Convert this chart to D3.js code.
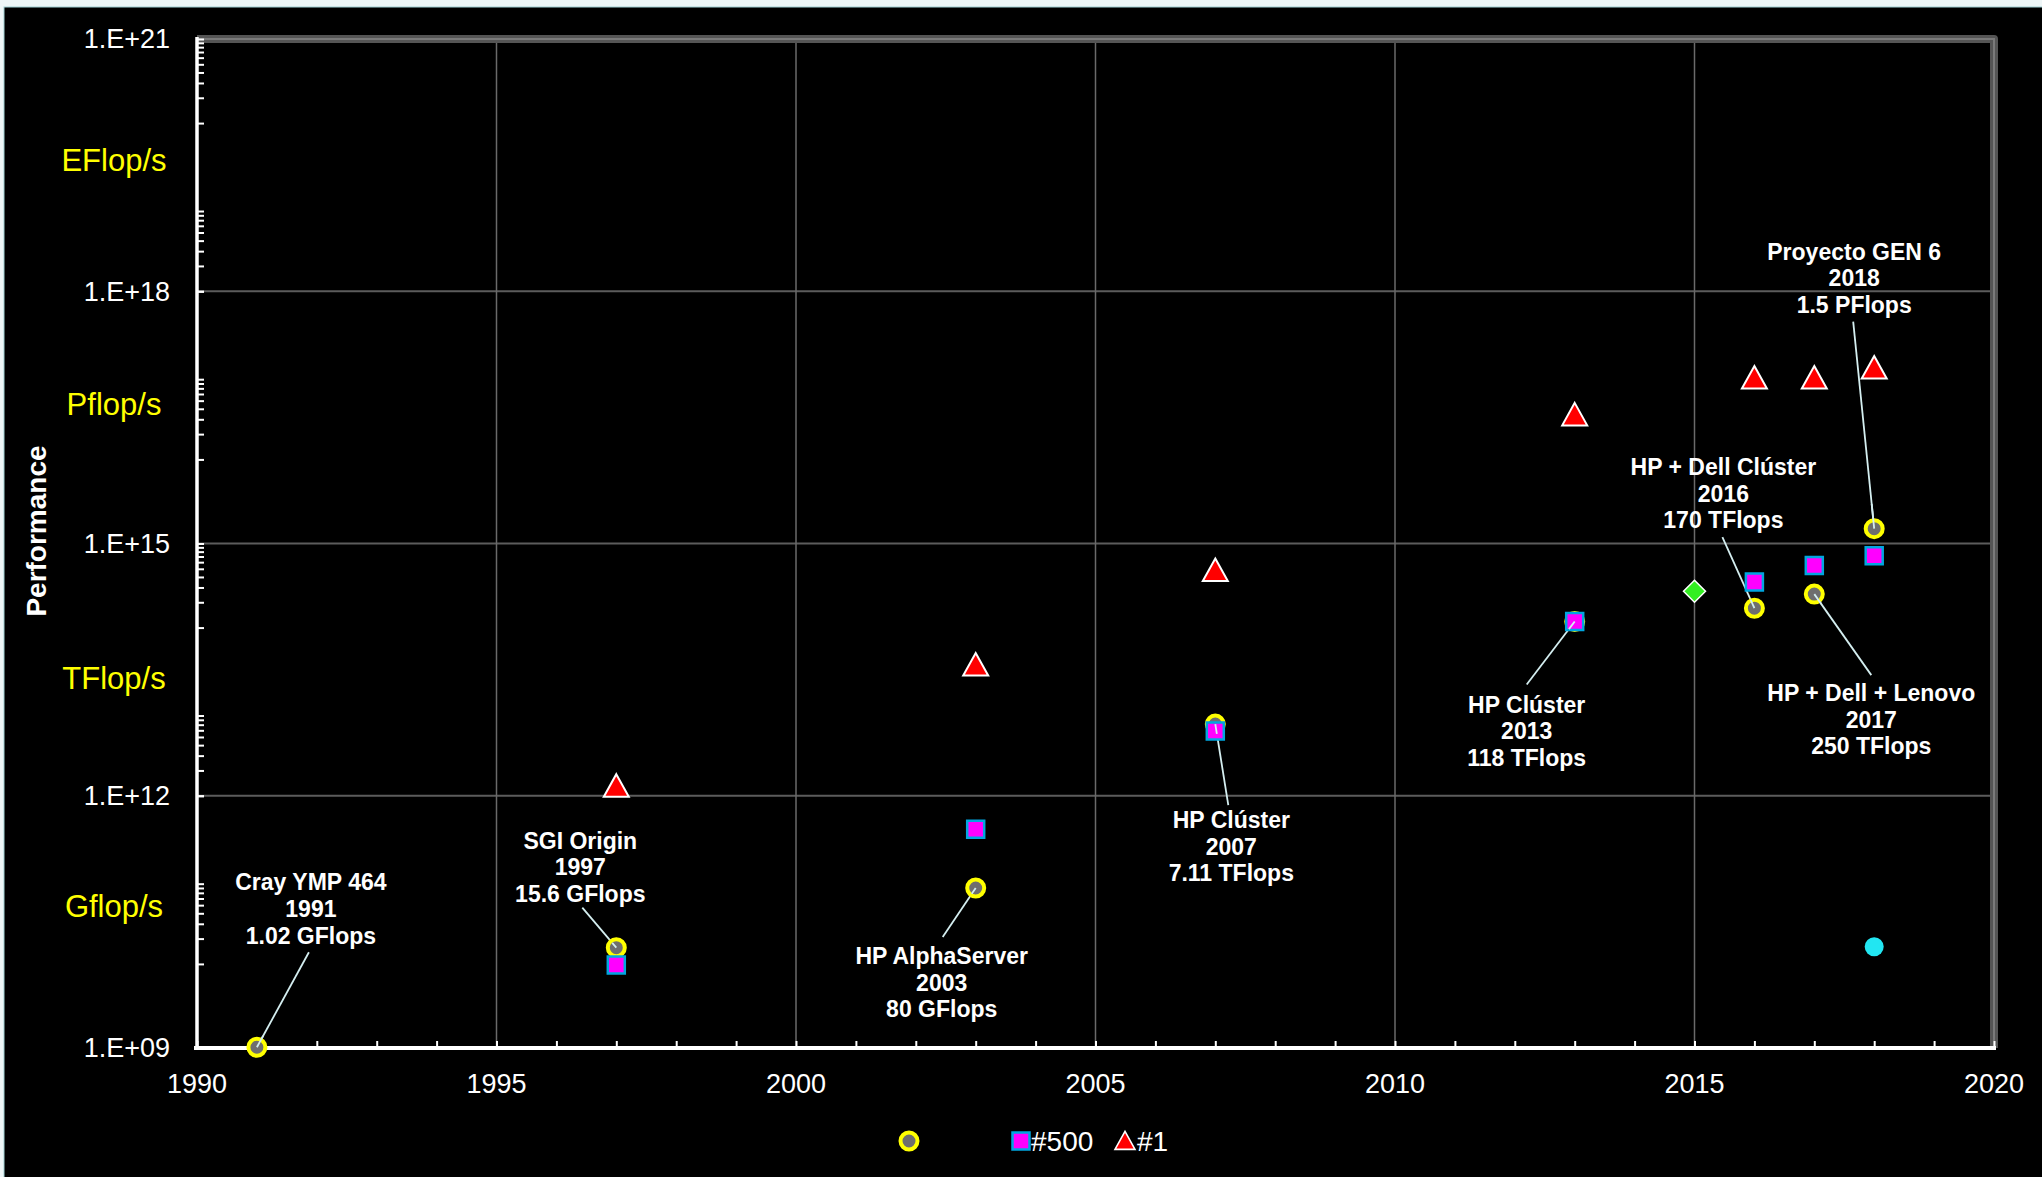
<!DOCTYPE html>
<html>
<head>
<meta charset="utf-8">
<script src="https://cdn.jsdelivr.net/npm/d3@7"></script>
<style>
  html, body { margin: 0; padding: 0; background: #eef6f7; overflow: hidden; }
  svg { display: block; }
  text { font-family: "Liberation Sans", Arial, sans-serif; }
</style>
</head>
<body>
<svg id="chart" width="2042" height="1177"></svg>
<script>
// ---- Data ----
const peruYears = [1991, 1997, 2003, 2007, 2013, 2016, 2017, 2018];
const peruPerf = [1.02e9, 15.6e9, 80e9, 7.11e12, 118e12, 170e12, 250e12, 1.5e15];
const peruNames = ["Cray YMP 464", "SGI Origin", "HP AlphaServer", "HP Clúster", "HP Clúster",
                   "HP + Dell Clúster", "HP + Dell + Lenovo", "Proyecto GEN 6"];
const peruPerfText = ["1.02 GFlops", "15.6 GFlops", "80 GFlops", "7.11 TFlops", "118 TFlops",
                      "170 TFlops", "250 TFlops", "1.5 PFlops"];

const topYears = [1997, 2003, 2007, 2013, 2016, 2017, 2018];
const rank500Perf = [9.7e9, 4.0e11, 5.9e12, 1.18e14, 3.49e14, 5.48e14, 7.16e14];
const rank1Perf = [1.3e12, 3.586e13, 4.78e14, 3.386e16, 9.3e16, 9.3e16, 1.223e17];

const diamondYears = [2015];
const diamondPerf = [2.7e14];
const dotYears = [2018];
const dotPerf = [1.6e10];

const xTickYears = [1990, 1995, 2000, 2005, 2010, 2015, 2020];
const yMajorTicks = [1e9, 1e12, 1e15, 1e18, 1e21];
const yTickLabels = ["1.E+09", "1.E+12", "1.E+15", "1.E+18", "1.E+21"];
const unitNames = ["Gflop/s", "TFlop/s", "Pflop/s", "EFlop/s"];
const unitLevels = [4.9e10, 2.5e13, 4.5e16, 3.6e19];
const legendLabels = ["", "#500", "#1"];

// ---- Layout ----
const W = 2042, H = 1177;
const plot = { left: 197, right: 1994, top: 39, bottom: 1048 };
// label placement relative to each labelled point: text centre (dx, dy) and leader start (lx, ly)
const labelOffsets = [
  { dx: 54, dy: -165, lx: 52, ly: -95 },
  { dx: -36, dy: -107, lx: -34, ly: -40 },
  { dx: -34, dy: 68, lx: -33, ly: 49 },
  { dx: 16, dy: 96, lx: 13, ly: 81 },
  { dx: -48, dy: 83, lx: -48, ly: 63 },
  { dx: -31, dy: -141, lx: -32, ly: -71 },
  { dx: 57, dy: 99, lx: 57, ly: 81 },
  { dx: -20, dy: -277, lx: -21, ly: -207 }
];

const svg = d3.select("#chart");

// background
svg.append("rect").attr("x", 4).attr("y", 7).attr("width", W).attr("height", H)
  .attr("fill", "#000").attr("stroke", "#9fcfd3").attr("stroke-width", 1);

const x = d3.scaleLinear().domain([1990, 2020]).range([plot.left, plot.right]);
const y = d3.scaleLog().domain([1e9, 1e21]).range([plot.bottom, plot.top]);

// grid
const grid = svg.append("g");
grid.selectAll("line.h").data(yMajorTicks.slice(1, -1)).join("line")
  .attr("x1", plot.left).attr("x2", plot.right)
  .attr("y1", d => y(d)).attr("y2", d => y(d))
  .attr("stroke", "#5c5c5c").attr("stroke-width", 2);
grid.selectAll("line.v").data(xTickYears.slice(1, -1)).join("line")
  .attr("x1", d => x(d)).attr("x2", d => x(d))
  .attr("y1", plot.top).attr("y2", plot.bottom)
  .attr("stroke", "#6a6a6a").attr("stroke-width", 1.5);

// outer frame (top + right)
svg.append("path")
  .attr("d", `M${plot.left},${plot.top} H${plot.right} V${plot.bottom}`)
  .attr("fill", "none").attr("stroke", "#555").attr("stroke-width", 8)
  .attr("stroke-linejoin", "round");
svg.append("path")
  .attr("d", `M${plot.left},${plot.top} H${plot.right} V${plot.bottom}`)
  .attr("fill", "none").attr("stroke", "#7a7a7a").attr("stroke-width", 2);

// y axis with minor ticks on alternating decades
const minorTicks = [];
[10, 12, 14, 16, 18, 20].forEach(n => {
  for (let k = 1; k <= 9; k++) minorTicks.push(k * Math.pow(10, n));
});
const yAxis = d3.axisRight(y).tickValues(minorTicks.concat(yMajorTicks))
  .tickSize(7).tickFormat("");
const yAxisG = svg.append("g").attr("transform", `translate(${plot.left},0)`).call(yAxis);
yAxisG.select(".domain").remove();
yAxisG.selectAll(".tick line").attr("stroke", "#fff").attr("stroke-width", 2);
svg.append("line").attr("x1", plot.left).attr("x2", plot.left)
  .attr("y1", plot.top - 2).attr("y2", plot.bottom + 2)
  .attr("stroke", "#fff").attr("stroke-width", 3.5);

svg.append("g").selectAll("text").data(yMajorTicks).join("text")
  .attr("x", 170).attr("y", d => y(d))
  .attr("dy", "0.35em").attr("text-anchor", "end")
  .attr("fill", "#fff").attr("font-size", 27)
  .text((d, i) => yTickLabels[i]);

// unit names
svg.append("g").selectAll("text").data(unitLevels).join("text")
  .attr("x", 114).attr("y", d => y(d))
  .attr("dy", "0.35em").attr("text-anchor", "middle")
  .attr("fill", "#ffff00").attr("font-size", 31)
  .text((d, i) => unitNames[i]);

// x axis
const yearTicks = d3.range(1990, 2021);
const xAxis = d3.axisTop(x).tickValues(yearTicks).tickSize(7).tickFormat("");
const xAxisG = svg.append("g").attr("transform", `translate(0,${plot.bottom})`).call(xAxis);
xAxisG.select(".domain").remove();
xAxisG.selectAll(".tick line").attr("stroke", "#fff").attr("stroke-width", 2);
svg.append("line").attr("x1", plot.left - 3).attr("x2", plot.right + 2)
  .attr("y1", plot.bottom).attr("y2", plot.bottom)
  .attr("stroke", "#fff").attr("stroke-width", 4);

svg.append("g").selectAll("text").data(xTickYears).join("text")
  .attr("x", d => x(d)).attr("y", 1084)
  .attr("dy", "0.35em").attr("text-anchor", "middle")
  .attr("fill", "#fff").attr("font-size", 27)
  .text(d => d);

// axis title
svg.append("text").attr("transform", "translate(36,531) rotate(-90)")
  .attr("text-anchor", "middle").attr("dy", "0.35em")
  .attr("fill", "#fff").attr("font-size", 28).attr("font-weight", "bold")
  .text("Performance");

// ---- marker shapes ----
const ring = sel => sel.attr("r", 8.5).attr("fill", "#6e6e6e")
  .attr("stroke", "#ffff00").attr("stroke-width", 4);
const squarePath = d3.symbol().type(d3.symbolSquare).size(17 * 17);
const trianglePath = "M0,-12 L12.5,10.5 L-12.5,10.5 Z";
const diamondPath = "M0,-11 L11,0 L0,11 L-11,0 Z";

// leader lines
const peru = peruYears.map((yr, i) => ({ yr, v: peruPerf[i], name: peruNames[i], txt: peruPerfText[i], o: labelOffsets[i] }));
svg.append("g").selectAll("line").data(peru).join("line")
  .attr("x1", d => x(d.yr) + d.o.lx).attr("y1", d => y(d.v) + d.o.ly)
  .attr("x2", d => x(d.yr)).attr("y2", d => y(d.v))
  .attr("stroke", "#d4eef0").attr("stroke-width", 1.8);

// series: national systems
svg.append("g").selectAll("circle").data(peru).join("circle")
  .attr("cx", d => x(d.yr)).attr("cy", d => y(d.v)).call(ring);

// series: #500
svg.append("g").selectAll("path").data(topYears).join("path")
  .attr("d", squarePath)
  .attr("transform", (d, i) => `translate(${x(d)},${y(rank500Perf[i])})`)
  .attr("fill", "#ff00ff").attr("stroke", "#00a6e0").attr("stroke-width", 2.5);

// series: #1
svg.append("g").selectAll("path").data(topYears).join("path")
  .attr("d", trianglePath)
  .attr("transform", (d, i) => `translate(${x(d)},${y(rank1Perf[i])})`)
  .attr("fill", "#ff0000").attr("stroke", "#fff").attr("stroke-width", 2);

svg.append("g").selectAll("path").data(diamondYears).join("path")
  .attr("d", diamondPath)
  .attr("transform", (d, i) => `translate(${x(d)},${y(diamondPerf[i])})`)
  .attr("fill", "#33ee22").attr("stroke", "#fff").attr("stroke-width", 1.5);

svg.append("g").selectAll("circle").data(dotYears).join("circle")
  .attr("cx", d => x(d)).attr("cy", (d, i) => y(dotPerf[i])).attr("r", 9.5)
  .attr("fill", "#22e6f2");

// the leader ends show on top of the markers
svg.append("g").selectAll("line").data(peru).join("line")
  .attr("x1", d => x(d.yr) + (d.o.lx) * 0.12).attr("y1", d => y(d.v) + (d.o.ly) * 0.12)
  .attr("x2", d => x(d.yr)).attr("y2", d => y(d.v))
  .attr("stroke", "#d4eef0").attr("stroke-width", 1.8);

// labels
const lab = svg.append("g").selectAll("text").data(peru).join("text")
  .attr("text-anchor", "middle").attr("fill", "#fff")
  .attr("font-size", 23).attr("font-weight", "bold");
lab.each(function (d) {
  const cx = x(d.yr) + d.o.dx, cy = y(d.v) + d.o.dy;
  const lines = [d.name, String(d.yr), d.txt];
  d3.select(this).selectAll("tspan").data(lines).join("tspan")
    .attr("x", cx).attr("y", (t, j) => cy + j * 26.6).attr("dy", "0.35em").text(t => t);
});

// legend
const leg = svg.append("g").attr("transform", "translate(0,1141)");
leg.append("circle").attr("cx", 909).attr("cy", 0).call(ring);
leg.append("path").attr("d", squarePath).attr("transform", "translate(1021,0)")
  .attr("fill", "#ff00ff").attr("stroke", "#00a6e0").attr("stroke-width", 2.5);
leg.append("text").attr("x", 1031).attr("y", 0).attr("dy", "0.35em")
  .attr("fill", "#fff").attr("font-size", 28).text(legendLabels[1]);
leg.append("path").attr("d", trianglePath).attr("transform", "translate(1125,0) scale(0.8)")
  .attr("fill", "#ff0000").attr("stroke", "#fff").attr("stroke-width", 2);
leg.append("text").attr("x", 1137).attr("y", 0).attr("dy", "0.35em")
  .attr("fill", "#fff").attr("font-size", 28).text(legendLabels[2]);
</script>
</body>
</html>
